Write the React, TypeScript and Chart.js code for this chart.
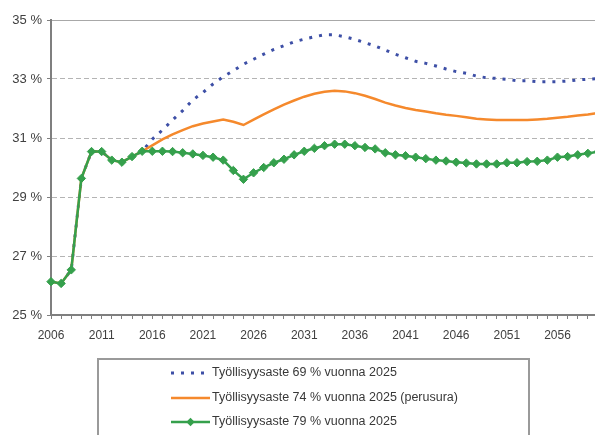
import React, { useEffect, useRef } from "react";
import { Chart, registerables } from "chart.js";

Chart.register(...registerables);

const years = [
  "2006", "2007", "2008", "2009", "2010", "2011", "2012", "2013", "2014", "2015",
  "2016", "2017", "2018", "2019", "2020", "2021", "2022", "2023", "2024", "2025",
  "2026", "2027", "2028", "2029", "2030", "2031", "2032", "2033", "2034", "2035",
  "2036", "2037", "2038", "2039", "2040", "2041", "2042", "2043", "2044", "2045",
  "2046", "2047", "2048", "2049", "2050", "2051", "2052", "2053", "2054", "2055",
  "2056", "2057", "2058", "2059", "2060",
];

const rate69 = [
  26.13, 26.07, 26.53, 29.63, 30.54, 30.54, 30.25, 30.18, 30.37, 30.55,
  30.96, 31.27, 31.61, 31.93, 32.29, 32.54, 32.83, 33.08, 33.28, 33.5,
  33.67, 33.84, 34.0, 34.13, 34.26, 34.35, 34.43, 34.5, 34.5, 34.43,
  34.34, 34.23, 34.12, 33.98, 33.84, 33.72, 33.6, 33.53, 33.44, 33.34,
  33.25, 33.19, 33.1, 33.04, 33.02, 32.99, 32.94, 32.94, 32.91, 32.91,
  32.91, 32.93, 32.97, 32.99, 33.01,
];

const rate74 = [
  26.13, 26.07, 26.53, 29.63, 30.54, 30.54, 30.25, 30.18, 30.37, 30.55,
  30.75, 30.95, 31.12, 31.27, 31.4, 31.49, 31.56, 31.63, 31.55, 31.44,
  31.62, 31.8, 31.97, 32.13, 32.27, 32.4, 32.5, 32.57, 32.6, 32.58,
  32.52, 32.43, 32.32, 32.2, 32.1, 32.02, 31.95, 31.9, 31.84, 31.79,
  31.75, 31.7, 31.65, 31.63, 31.61, 31.61, 31.61, 31.61, 31.63, 31.65,
  31.69, 31.72, 31.76, 31.8, 31.85,
];

const rate79 = [
  26.13, 26.07, 26.53, 29.63, 30.54, 30.54, 30.25, 30.18, 30.37, 30.55,
  30.55, 30.55, 30.54, 30.5, 30.46, 30.41, 30.35, 30.25, 29.9, 29.6,
  29.82, 30.0, 30.16, 30.28, 30.43, 30.55, 30.65, 30.74, 30.79, 30.79,
  30.74, 30.68, 30.63, 30.5, 30.43, 30.4, 30.35, 30.3, 30.25, 30.22,
  30.18, 30.15, 30.12, 30.12, 30.12, 30.16, 30.16, 30.2, 30.21, 30.25,
  30.35, 30.37, 30.43, 30.48, 30.53,
];

const seriesLabels = [
  "Työllisyysaste 69 % vuonna 2025",
  "Työllisyysaste 74 % vuonna 2025 (perusura)",
  "Työllisyysaste 79 % vuonna 2025",
];

const yMin = 25;
const yMax = 35;
const yStep = 2;

const BLUE = "#3d4fa6";
const ORANGE = "#f5892c";
const GREEN = "#35a04c";
const FONT = '"Liberation Sans", Arial, sans-serif';

const boxLegend = {
  id: "boxLegend",
  afterDraw(chart: any) {
    const ctx = chart.ctx as CanvasRenderingContext2D;
    ctx.save();
    ctx.strokeStyle = "#9a9a9a";
    ctx.lineWidth = 2;
    ctx.strokeRect(98, 359, 431, 120);
    const rows = [373, 398, 422];
    const x1 = 171;
    const x2 = 210;
    chart.data.datasets.forEach((ds: any, i: number) => {
      const y = rows[i];
      ctx.save();
      ctx.strokeStyle = ds.borderColor;
      ctx.lineWidth = ds.borderWidth;
      ctx.setLineDash(ds.borderDash || []);
      ctx.beginPath();
      ctx.moveTo(x1, y);
      ctx.lineTo(x2, y);
      ctx.stroke();
      ctx.restore();
      if (ds.pointRadius > 0) {
        const cx = (x1 + x2) / 2;
        const r = ds.pointRadius;
        ctx.fillStyle = ds.pointBackgroundColor;
        ctx.beginPath();
        ctx.moveTo(cx, y - r);
        ctx.lineTo(cx + r, y);
        ctx.lineTo(cx, y + r);
        ctx.lineTo(cx - r, y);
        ctx.closePath();
        ctx.fill();
      }
      ctx.fillStyle = "#383838";
      ctx.font = `12.5px ${FONT}`;
      ctx.textAlign = "left";
      ctx.textBaseline = "middle";
      ctx.fillText(ds.label, 212, y);
    });
    ctx.restore();
  },
};

export default function App() {
  const ref = useRef<HTMLCanvasElement | null>(null);

  useEffect(() => {
    if (!ref.current) return;
    const chart = new Chart(ref.current, {
      type: "line",
      data: {
        labels: years,
        datasets: [
          {
            label: seriesLabels[0],
            data: rate69,
            borderColor: BLUE,
            backgroundColor: BLUE,
            borderWidth: 3,
            borderDash: [3, 7],
            pointRadius: 0,
            tension: 0,
            order: 2,
          },
          {
            label: seriesLabels[1],
            data: rate74,
            borderColor: ORANGE,
            backgroundColor: ORANGE,
            borderWidth: 2.5,
            pointRadius: 0,
            tension: 0,
            order: 1,
          },
          {
            label: seriesLabels[2],
            data: rate79,
            borderColor: GREEN,
            backgroundColor: GREEN,
            borderWidth: 2.5,
            pointRadius: 4.2,
            pointStyle: "rectRot",
            pointBackgroundColor: GREEN,
            pointBorderColor: GREEN,
            pointBorderWidth: 1,
            tension: 0,
            order: 0,
          },
        ] as any,
      },
      options: {
        animation: false,
        responsive: false,
        devicePixelRatio: 1,
        layout: { padding: { left: 0, right: 12, top: 20, bottom: 95 } },
        plugins: {
          legend: { display: false },
          tooltip: { enabled: false },
        },
        scales: {
          x: {
            type: "category",
            offset: false,
            afterFit: (scale: any) => {
              scale.height = 25;
            },
            grid: {
              drawOnChartArea: false,
              drawTicks: true,
              tickLength: 4,
              tickColor: "#7f7f7f",
              tickWidth: 1,
            },
            border: { display: true, color: "#7f7f7f", width: 2 },
            ticks: {
              autoSkip: false,
              maxRotation: 0,
              minRotation: 0,
              padding: 9,
              color: "#404040",
              font: { family: FONT, size: 12 },
              callback: (_v: any, i: number) => (i % 5 === 0 ? years[i] : ""),
            },
          },
          y: {
            min: yMin,
            max: yMax,
            afterFit: (scale: any) => {
              scale.width = 51;
            },
            grid: {
              color: (c: any) => (c.tick && c.tick.value === yMax ? "#a8a8a8" : "#b4b4b4"),
              lineWidth: 1,
              drawTicks: true,
              tickLength: 4,
              tickColor: "#7f7f7f",
              tickBorderDash: [],
            },
            border: {
              display: true,
              color: "#7f7f7f",
              width: 2,
              dash: (c: any) => (c.tick && c.tick.value < yMax ? [5, 3] : []),
            } as any,
            ticks: {
              stepSize: yStep,
              padding: 5,
              color: "#404040",
              font: { family: FONT, size: 13 },
              callback: (v: any) => `${v} %`,
            },
          },
        },
      },
      plugins: [boxLegend],
    });
    return () => chart.destroy();
  }, []);

  return (
    <div
      style={{
        position: "fixed",
        left: 0,
        top: 0,
        width: 595,
        height: 435,
        overflow: "hidden",
        background: "#ffffff",
      }}
    >
      <canvas ref={ref} width={610} height={435} style={{ display: "block" }} />
    </div>
  );
}
